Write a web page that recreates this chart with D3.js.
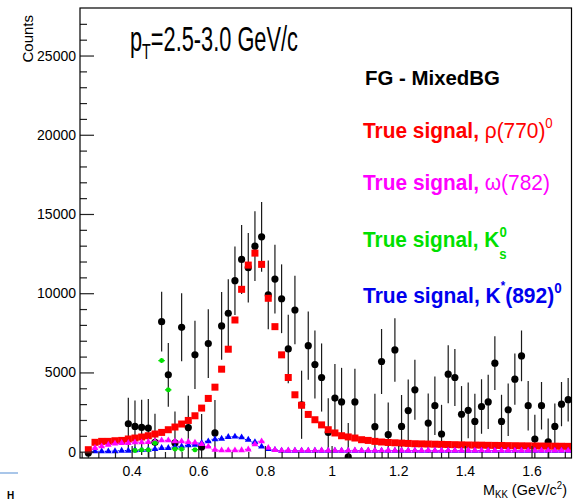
<!DOCTYPE html>
<html><head><meta charset="utf-8">
<script src="https://cdn.jsdelivr.net/npm/d3@7"></script>
<style>body{margin:0;background:#fff} svg{display:block} text{font-family:"Liberation Sans",Arial,Helvetica,sans-serif}</style>
</head><body><svg id="c" width="573" height="500"></svg>
<script>
// bin centres of M_KK (GeV/c^2)
const binCenters = [0.27,0.29,0.31,0.33,0.35,0.37,0.39,0.41,0.43,0.45,0.47,0.49,0.51,0.53,0.55,0.57,0.59,0.61,0.63,0.65,
0.67,0.69,0.71,0.73,0.75,0.77,0.79,0.81,0.83,0.85,0.87,0.89,0.91,0.93,0.95,0.97,0.99,1.01,1.03,1.05,
1.07,1.09,1.11,1.13,1.15,1.17,1.19,1.21,1.23,1.25,1.27,1.29,1.31,1.33,1.35,1.37,1.39,1.41,1.43,1.45,
1.47,1.49,1.51,1.53,1.55,1.57,1.59,1.61,1.63,1.65,1.67,1.69,1.71];
// FG - MixedBG
const fgValues = [-80,null,null,null,null,null,1760,1594,1530,1490,590,8205,4850,550,7850,1520,6110,300,6820,1180,
7935,8735,10790,12130,11610,12970,13560,9890,10895,9650,6485,8940,2960,6690,5500,4680,1215,3380,3140,-335,
3140,null,null,1575,5690,1070,6420,1595,2590,3905,null,1805,2900,1115,4890,4680,2360,2610,1910,2850,
3140,5585,1910,2645,4575,6045,2900,800,2900,620,1595,3000,3280];
const fgErrors = [300,null,null,null,null,null,1640,1640,1745,1830,1810,1890,2015,1990,2140,2015,2150,2080,2170,2080,
2140,2150,2160,2180,2190,2200,2200,2170,2170,2170,2160,2160,2150,2150,2150,2150,2150,2150,2150,2140,
2100,null,null,2080,2050,2040,2000,1980,1960,1890,null,1860,1850,1840,1830,1800,1780,1760,1740,1720,
1710,1700,1680,1650,1620,1600,1560,1530,1500,1470,1440,1400,1370];
// True signal rho(770)0
const rhoValues = [125,590,650,650,690,710,800,860,925,1005,1115,1215,1385,1555,1745,1970,2265,2750,3360,4070,
5205,6465,8310,10245,11775,12530,11820,9680,7890,6110,4680,3590,2930,2350,2015,1690,1385,1180,1005,930,
860,755,710,650,610,580,560,540,520,500,490,480,470,460,450,440,430,420,415,410,
400,395,390,380,375,370,365,360,355,350,345,340,335];
// True signal omega(782)
const omegaValues = [null,230,335,440,505,545,545,590,590,610,650,710,710,650,650,610,570,480,320,125,
80,80,80,90,140,460,650,240,110,70,75,70,65,70,70,75,70,65,70,70,
75,70,70,65,70,75,70,70,65,70,70,75,70,70,65,70,70,75,70,70,
65,70,70,75,70,65,70,70,75,70,70,65,70];
// True signal K0s
const k0sValues = [null,null,null,null,null,null,null,80,120,120,545,5750,3905,170,160,null,125,null,null,null,
null,null,null,null,null,null,null,null,null,null,null,null,null,null,null,null,null,null,null,null,
null,null,null,null,null,null,null,null,null,null,null,null,null,null,null,null,null,null,null,null,
null,null,null,null,null,null,null,null,null,null,null,null,null];
// True signal K*(892)0
const kstarValues = [null,20,20,20,30,60,60,90,100,125,160,230,230,290,335,400,440,545,650,780,
820,925,950,900,755,600,320,160,110,60,55,60,55,55,60,55,60,55,55,60,
55,60,55,55,60,55,60,55,55,60,55,60,55,55,60,55,60,55,55,60,
55,60,55,55,60,55,60,55,55,60,55,60,55];
const yMajorTicks = [0,5000,10000,15000,20000,25000];
const xMajorTicks = [0.4,0.6,0.8,1,1.2,1.4,1.6];
const xTickLabels = ["0.4","0.6","0.8","1","1.2","1.4","1.6"];

const W=573,H=500;
const fr = {l:80, r:571.5, t:8, b:458};
const svg = d3.select('#c');
svg.append('rect').attr('width',W).attr('height',H).attr('fill','#fff');
const x = d3.scaleLinear().domain([0.245,1.72]).range([fr.l, fr.r]);
const y = d3.scaleLinear().domain([-400,28000]).range([fr.b, fr.t]);
const hb = 0.01;

svg.append('defs').append('clipPath').attr('id','clip').append('rect')
  .attr('x',fr.l).attr('y',fr.t).attr('width',fr.r-fr.l).attr('height',fr.b-fr.t);
const plot = svg.append('g').attr('clip-path','url(#clip)');

function series(vals){ return binCenters.map((c,i)=>({c, v:vals[i]})).filter(d=>d.v!==null && d.v!==undefined); }

// FG - MixedBG
const fg = binCenters.map((c,i)=>({c, v:fgValues[i], e:fgErrors[i]})).filter(d=>d.v!==null);
plot.append('g').selectAll('line').data(fg).join('line')
  .attr('x1',d=>x(d.c)).attr('x2',d=>x(d.c))
  .attr('y1',d=>y(d.v-d.e)).attr('y2',d=>y(d.v+d.e))
  .attr('stroke','#1a1a1a').attr('stroke-width',1.2);
plot.append('g').selectAll('circle').data(fg).join('circle')
  .attr('cx',d=>x(d.c)).attr('cy',d=>y(d.v)).attr('r',3.6).attr('fill','#000');

// rho
plot.append('g').selectAll('rect').data(series(rhoValues)).join('rect')
  .attr('x',d=>x(d.c)-3.5).attr('y',d=>y(d.v)-3.5).attr('width',7).attr('height',7).attr('fill','#ff0000');

function triSeries(vals, col){
  const g = plot.append('g');
  const s = series(vals);
  g.selectAll('line').data(s).join('line')
    .attr('x1',d=>x(d.c-hb)).attr('x2',d=>x(d.c+hb)).attr('y1',d=>y(d.v)).attr('y2',d=>y(d.v))
    .attr('stroke',col).attr('stroke-width',1.2).attr('stroke-dasharray','1,1.5');
  g.selectAll('path').data(s).join('path')
    .attr('d', d3.symbol().type(d3.symbolTriangle).size(20))
    .attr('transform',d=>`translate(${x(d.c)},${y(d.v)})`).attr('fill',col);
}
triSeries(kstarValues,'#0000ff');
triSeries(omegaValues,'#ff00ff');

// K0s
const gk = plot.append('g');
const ks = series(k0sValues);
gk.selectAll('line.h').data(ks).join('line').attr('class','h')
  .attr('x1',d=>x(d.c-hb)).attr('x2',d=>x(d.c+hb)).attr('y1',d=>y(d.v)).attr('y2',d=>y(d.v))
  .attr('stroke','#00e000').attr('stroke-width',1.2).attr('stroke-dasharray','1.5,1');
gk.selectAll('path').data(ks).join('path')
  .attr('d','M-2.5,0H2.5M0,-2.5V2.5M-1.8,-1.8L1.8,1.8M-1.8,1.8L1.8,-1.8')
  .attr('transform',d=>`translate(${x(d.c)},${y(d.v)})`).attr('stroke','#00e000').attr('stroke-width',1.4).attr('fill','none');

// axes
const axStyle = g => { g.select('.domain').remove(); g.selectAll('line').attr('stroke','#222').attr('stroke-width',1.2);
  g.selectAll('text').attr('fill','#000').attr('font-size',14).attr('font-family','"Liberation Sans",Arial,sans-serif'); };
svg.append('g').attr('transform',`translate(${fr.l},0)`)
  .call(d3.axisLeft(y).tickValues(yMajorTicks).tickSize(-14).tickPadding(4).tickFormat(d3.format('d'))).call(axStyle);
svg.append('g').attr('transform',`translate(${fr.l},0)`)
  .call(d3.axisLeft(y).tickValues(d3.range(1000,28000,1000).filter(v=>v%5000)).tickSize(-7).tickFormat('')).call(axStyle);
svg.append('g').attr('transform',`translate(0,${fr.b})`)
  .call(d3.axisBottom(x).tickValues(xMajorTicks).tickSize(-12).tickPadding(8).tickFormat((d,i)=>xTickLabels[i])).call(axStyle);
svg.append('g').attr('transform',`translate(0,${fr.b})`)
  .call(d3.axisBottom(x).tickValues([0.25,0.3,0.35,0.45,0.5,0.55,0.65,0.7,0.75,0.85,0.9,0.95,1.05,1.1,1.15,1.25,1.3,1.35,1.45,1.5,1.55,1.65,1.7]).tickSize(-6).tickFormat('')).call(axStyle);
svg.append('rect').attr('x',fr.l).attr('y',fr.t).attr('width',fr.r-fr.l).attr('height',fr.b-fr.t)
  .attr('fill','none').attr('stroke','#000').attr('stroke-width',1.2);

function fitWidth(sel, x0, w){ const bb = sel.node().getBBox(); const s = w/bb.width;
  sel.attr('transform',`translate(${x0},0) scale(${s},1) translate(${-x0},0)`); }

// axis titles
svg.append('text').attr('transform','translate(33,15) rotate(-90)').attr('text-anchor','end')
  .attr('font-size',15).text('Counts');
const xt = svg.append('text').attr('x',483).attr('y',495).attr('font-size',15);
xt.append('tspan').text('M');
xt.append('tspan').attr('font-size',10).attr('dy',3).text('KK');
xt.append('tspan').attr('dy',-3).text(' (GeV/c');
xt.append('tspan').attr('font-size',10).attr('dy',-6).text('2');
xt.append('tspan').attr('dy',6).text(')');
fitWidth(xt,483,84);

// title
const tt = svg.append('text').attr('x',130).attr('y',51).attr('font-size',35);
tt.append('tspan').text('p');
tt.append('tspan').attr('font-size',23).attr('dy',8).text('T');
tt.append('tspan').attr('dy',-8).text('=2.5-3.0 GeV/c');
fitWidth(tt,130,168);

// legend
const l0 = svg.append('text').attr('x',365).attr('y',85).attr('font-size',21).attr('font-weight','bold').attr('fill','#000').text('FG - MixedBG');
fitWidth(l0,365,135);
const l1 = svg.append('text').attr('x',363).attr('y',138).attr('font-size',22).attr('fill','#ff0000');
l1.append('tspan').attr('font-weight','bold').text('True signal, ');
l1.append('tspan').text('ρ(770)');
l1.append('tspan').attr('font-size',14).attr('dy',-10).text('0');
fitWidth(l1,363,190);
const l2 = svg.append('text').attr('x',363).attr('y',190).attr('font-size',22).attr('fill','#ff00ff');
l2.append('tspan').attr('font-weight','bold').text('True signal, ');
l2.append('tspan').text('ω(782)');
fitWidth(l2,363,187);
const l3 = svg.append('text').attr('x',363).attr('y',247).attr('font-size',22).attr('font-weight','bold').attr('fill','#00e000');
l3.append('tspan').text('True signal, K');
l3.append('tspan').attr('font-size',14).attr('dy',-10).text('0');
l3.append('tspan').attr('font-size',14).attr('dx',-8).attr('dy',22).text('s');
fitWidth(l3,363,144);
const l4 = svg.append('text').attr('x',363).attr('y',303).attr('font-size',22).attr('font-weight','bold').attr('fill','#0000ee');
l4.append('tspan').text('True signal, K');
l4.append('tspan').attr('font-size',12).attr('dy',-13).text('*');
l4.append('tspan').attr('dy',13).text('(892)');
l4.append('tspan').attr('font-size',14).attr('dy',-10).text('0');
fitWidth(l4,363,199);

// bits of the neighbouring pad
svg.append('line').attr('x1',0).attr('x2',18).attr('y1',473).attr('y2',473).attr('stroke','#8db3e2').attr('stroke-width',1.5);
svg.append('text').attr('x',7).attr('y',499).attr('font-size',10).attr('font-weight','bold').text('H');
</script></body></html>
